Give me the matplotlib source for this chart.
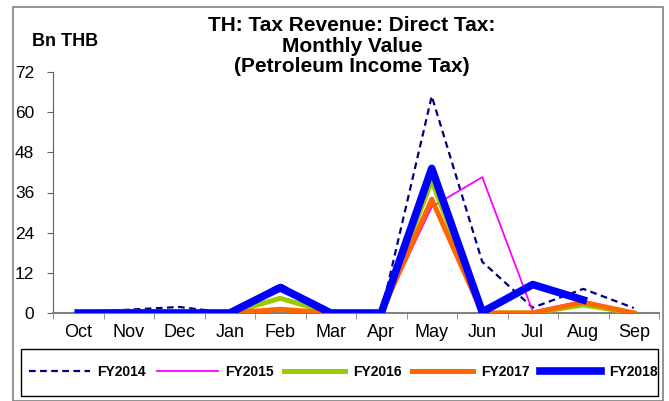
import numpy as np
import matplotlib
matplotlib.use("Agg")
import matplotlib.pyplot as plt
from matplotlib.patches import Rectangle

plt.rcParams['font.family'] = ['Liberation Sans', 'DejaVu Sans']

# data (Bn THB), fiscal year Oct..Sep
months = ['Oct', 'Nov', 'Dec', 'Jan', 'Feb', 'Mar', 'Apr', 'May', 'Jun', 'Jul', 'Aug', 'Sep']
fy2014 = [0, 1.0, 1.8, 0, 8.6, 0, 0, 64.8, 15.3, 1.6, 7.2, 1.5]
fy2015 = [0, 0.5, 0, 0, 6.5, 0, 0, 31.7, 40.6, 0.5, 3.6, 0]
fy2016 = [0, 0, 0, 0, 4.4, 0, 0, 39.5, 0, 0, 2.4, 0]
fy2017 = [0, 0.5, 0, 0, 1.1, 0, 0, 34.0, 0, 0, 3.2, 0]
fy2018 = [0, 0, 0, 0, 7.6, 0, 0, 43.2, 0.3, 8.5, 3.9, np.nan]
yticks = [0, 12, 24, 36, 48, 60, 72]

fig = plt.figure(figsize=(6.69, 4.01), dpi=100)
fig.patch.set_facecolor('white')

# outer frame + legend frame
fig.patches.append(Rectangle((13/669, 0.0), 650/669, 1 - 7/401, transform=fig.transFigure,
                             fill=False, edgecolor='#808080', linewidth=1.2))
fig.patches.append(Rectangle((21/669, 1 - 396/401), 637/669, 47/401, transform=fig.transFigure,
                             fill=False, edgecolor='black', linewidth=1.0))

ax = fig.add_axes([53/669, 1 - 313/401, 606/669, 241/401])
x = np.arange(len(months))

ax.plot(x, fy2014, color='#000080', lw=1.6, ls=(0, (3, 2)), label='FY2014', zorder=3)
ax.plot(x, fy2015, color='#FF00FF', lw=1.3, label='FY2015', zorder=3)
ax.plot(x, fy2016, color='#99CC00', lw=3.6, label='FY2016', zorder=3)
ax.plot(x, fy2017, color='#FF6600', lw=3.6, label='FY2017', zorder=3)
ax.plot(x, fy2018, color='#0000FF', lw=5.5, label='FY2018', zorder=4)

ax.set_xlim(-0.5, 11.5)
ax.set_ylim(0, 72)
ax.set_yticks(yticks)
ax.set_yticklabels([str(v) for v in yticks], fontsize=12.5)
ax.set_xticks(x)
ax.set_xticklabels(months, fontsize=13)
ax.set_xticks(np.arange(-0.5, 12, 1), minor=True)
ax.tick_params(axis='x', which='major', length=0, pad=8)
ax.tick_params(axis='x', which='minor', length=4, color='#808080', direction='out')
ax.tick_params(axis='y', length=4, color='#606060', pad=9.5)

for s in ['top', 'right']:
    ax.spines[s].set_visible(False)
ax.spines['left'].set_color('#606060')
ax.spines['bottom'].set_color('#808080')
ax.spines['bottom'].set_linewidth(1.5)
ax.set_facecolor('none')

fig.text(352/669, 1 - 46/401, 'TH: Tax Revenue: Direct Tax:\nMonthly Value\n(Petroleum Income Tax)',
         ha='center', va='center', fontsize=15, fontweight='bold', linespacing=1.08)
fig.text(32/669, 1 - 42/401, 'Bn THB', ha='left', va='center', fontsize=13, fontweight='bold')

leg = fig.legend(loc='center', bbox_to_anchor=(343/669, 1 - 372/401),
                 ncol=5, frameon=False,
                 prop={'weight': 'bold', 'size': 10}, handlelength=4.4, handletextpad=0.55,
                 columnspacing=0.75, borderaxespad=0, borderpad=0)

fig.savefig('out.png', dpi=100)
